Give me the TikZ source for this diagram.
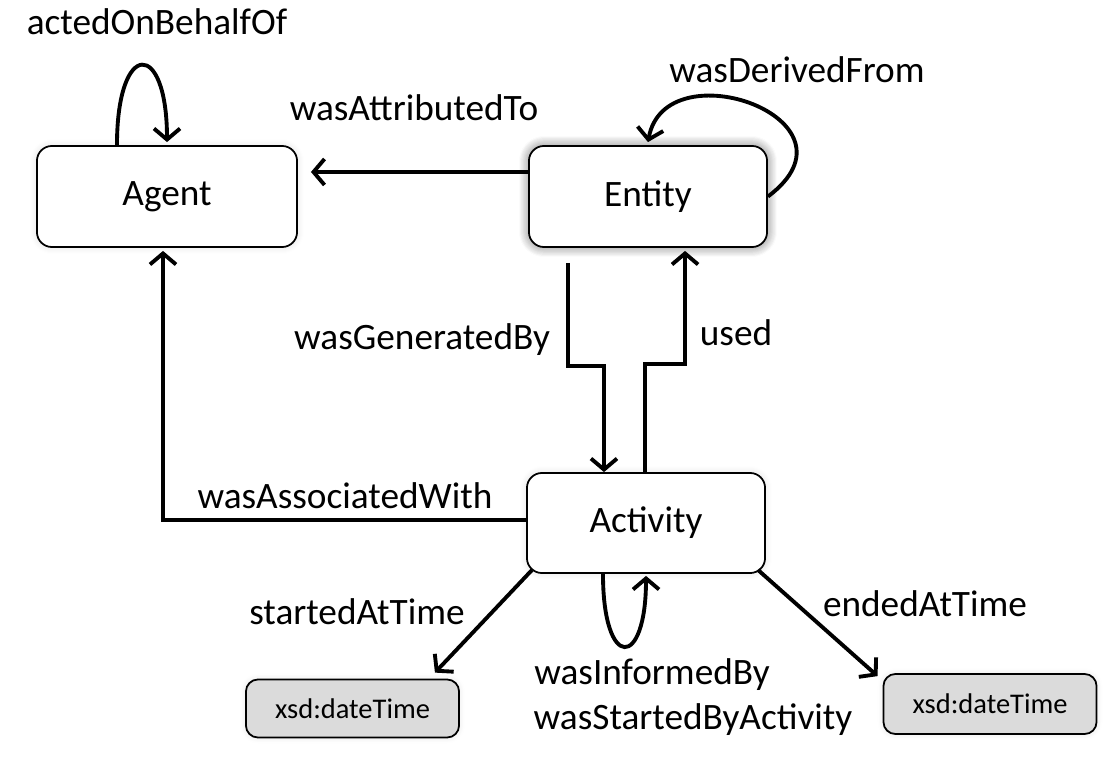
\documentclass[tikz,border=0pt]{standalone}
\usepackage{fontspec}
\setmainfont{Carlito}
\usetikzlibrary{arrows.meta,shadows.blur}

\begin{document}
\begin{tikzpicture}[x = 0.01cm, y = -0.01cm]
\tikzstyle{ClassStyle}=[draw, fill = white,
                        rounded corners = 0.15cm,
                        line width = 0.5pt,
                        minimum width = 2.38cm,
                        minimum height = 1.0cm,
                        font = \fontsize{10.6}{12}\selectfont,
                        blur shadow = {shadow xshift = 0pt, shadow yshift = 0pt,
                                       shadow blur radius = 0.07cm, shadow blur steps = 8,
                                       shadow opacity = 12}]
\tikzstyle{TypeStyle}=[draw, fill = black!14,
                       rounded corners = 0.12cm,
                       line width = 0.5pt,
                       minimum width = 2.13cm,
                       minimum height = 0.6cm,
                       font = \fontsize{8.1}{10}\selectfont,
                       blur shadow = {shadow xshift = 0pt, shadow yshift = 0pt,
                                      shadow blur radius = 0.06cm, shadow blur steps = 8,
                                      shadow opacity = 10}]
\tikzstyle{EdgeStyle}=[line width = 1.1pt, -{Straight Barb[length = 1.1mm, width = 2.6mm]}]
\tikzstyle{LabelStyle}=[font = \fontsize{10.6}{12}\selectfont, inner sep = 0pt]

\useasboundingbox (0,0) rectangle (1116,764);

\node[ClassStyle, minimum width = 2.6cm, minimum height = 1.01cm] (agent) at (167,196.5) {Agent};
\node[ClassStyle, minimum height = 1.01cm,
      blur shadow = {shadow xshift = 0pt, shadow yshift = 0pt,
                     shadow blur radius = 0.1cm, shadow blur steps = 10,
                     shadow opacity = 30}] (entity) at (648,196.5) {Entity};
\node[ClassStyle] (activity) at (646,523) {Activity};
\node[TypeStyle, minimum height = 0.58cm] (date1) at (352.5,708.5) {xsd:dateTime};
\node[TypeStyle] (date2) at (990,704) {xsd:dateTime};

\node[LabelStyle] (lActed) at (157,22) {actedOnBehalfOf};
\node[LabelStyle] (lAttr) at (414,108) {wasAttributedTo};
\node[LabelStyle] (lDerived) at (797,70) {wasDerivedFrom};
\node[LabelStyle] (lGen) at (422,340) {wasGeneratedBy};
\node[LabelStyle] (lUsed) at (736,333) {used};
\node[LabelStyle] (lAssoc) at (345,496) {wasAssociatedWith};
\node[LabelStyle] (lStarted) at (357,612) {startedAtTime};
\node[LabelStyle] (lEnded) at (925,604) {endedAtTime};
\node[LabelStyle] (lInformed) at (652,675) {wasInformedBy};
\node[LabelStyle] (lStartedBy) at (693,720) {wasStartedByActivity};

\draw[EdgeStyle] ([yshift = 2.45mm]entity.west) -- ([xshift = 1.3mm, yshift = 2.45mm]agent.east);
\draw[EdgeStyle] ([xshift = -5mm]agent.north) .. controls +(0,-106) and +(0,-103) .. ([yshift = 0.3mm]agent.north);
\draw[EdgeStyle] (entity.east) .. controls +(103,-77) and +(17,-95) .. ([yshift = 0.3mm]entity.north);
\draw[EdgeStyle] ([xshift = -8mm, yshift = -1.5mm]entity.south) -- ++(0,103) -| ([xshift = -4.2mm]activity.north);
\draw[EdgeStyle] ([xshift = -0.1mm]activity.north) -- ++(0,-108) -| ([xshift = 3.7mm, yshift = -0.3mm]entity.south);
\draw[EdgeStyle] ([yshift = 0.3mm]activity.west) -| ([xshift = -0.4mm, yshift = -0.3mm]agent.south);
\draw[EdgeStyle] ([xshift = -4.3mm]activity.south) .. controls +(0,97) and +(0,94) .. ([yshift = -0.2mm]activity.south);
\draw[EdgeStyle] ([shift = {(0.6mm,0.4mm)}]activity.south west) -- ([shift = {(-2.5mm,0.6mm)}]date1.north east);
\draw[EdgeStyle] ([shift = {(-0.8mm,0.4mm)}]activity.south east) -- ([shift = {(-0.5mm,-0.3mm)}]date2.north west);
\end{tikzpicture}
\end{document}
